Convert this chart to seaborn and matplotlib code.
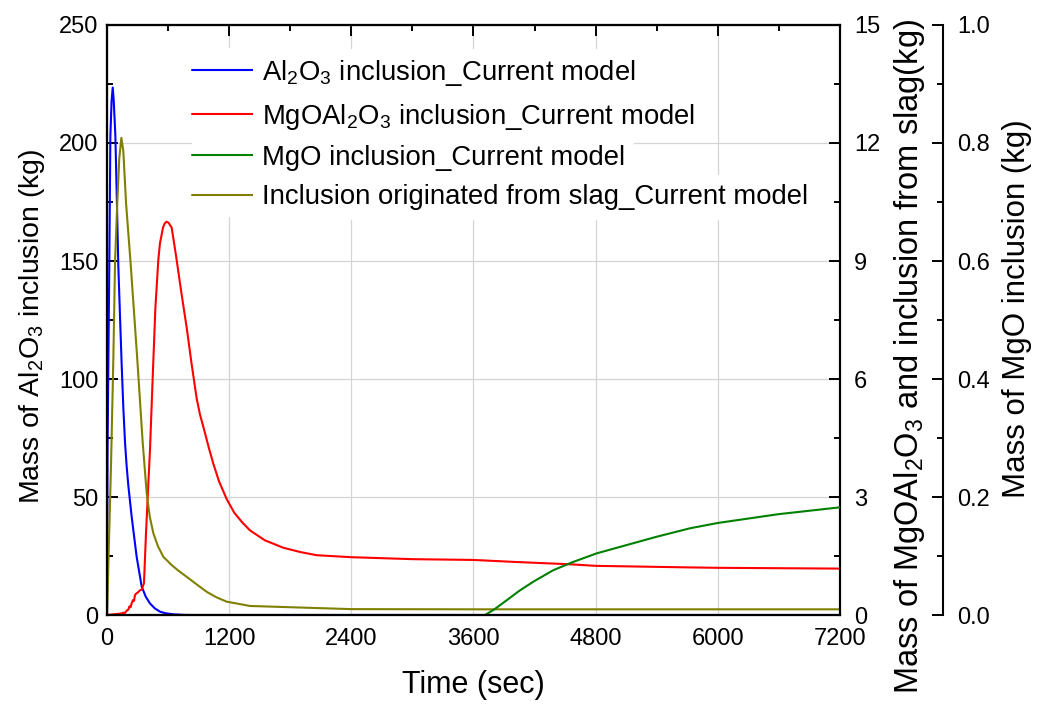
import numpy as np
import pandas as pd
import matplotlib
matplotlib.use("Agg")
import matplotlib.pyplot as plt
import matplotlib.patheffects as pe
from matplotlib.ticker import MultipleLocator, FormatStrFormatter
import seaborn as sns

# ---------------- data ----------------
# Al2O3 inclusion (left axis, kg)
t_al2o3 = [0, 5, 22, 33, 45, 56, 66, 82, 97, 111, 128, 144, 160, 177, 193,
           209, 242, 291, 341, 380, 422, 470, 521, 580, 651, 750, 832, 7200]
m_al2o3 = [0, 70, 146, 203, 218, 223.5, 218, 203, 175, 148, 126, 106, 88,
           73, 63, 55.0, 41.7, 24.7, 12.0, 7.8, 4.9, 2.8, 1.4, 0.7, 0.3,
           0.05, 0, 0]

# MgOAl2O3 inclusion (right axis, kg)
t_spinel = [0, 144, 160, 175, 193, 210, 220, 232, 242, 255, 265, 275, 290,
            305, 320, 341, 363, 383, 406, 422, 449, 475, 504, 520, 550, 565,
            586, 605, 635, 680, 730, 783, 830, 881, 913, 960, 1000, 1044,
            1100, 1175, 1250, 1330, 1405, 1550, 1732, 1900, 2060, 2400, 3000,
            3600, 4000, 4548, 4800, 5727, 6000, 6600, 7200]
m_spinel = [0, 0.04, 0.06, 0.05, 0.11, 0.14, 0.22, 0.20, 0.30, 0.38, 0.36,
            0.51, 0.55, 0.58, 0.62, 0.65, 0.81, 2.08, 3.35, 4.19, 6.06, 7.8,
            9.03, 9.45, 9.85, 9.95, 10.0, 9.97, 9.85, 9.1, 8.2, 7.3, 6.4,
            5.5, 5.1, 4.65, 4.25, 3.85, 3.4, 2.95, 2.6, 2.35, 2.15, 1.9, 1.71,
            1.6, 1.52, 1.47, 1.42, 1.40, 1.35, 1.29, 1.25, 1.21, 1.20, 1.19,
            1.18]

# MgO inclusion (third axis, kg)
t_mgo = [0, 3713, 3800, 3926, 4050, 4188, 4384, 4580, 4810, 5105, 5400,
         5727, 6000, 6600, 7200]
m_mgo = [0, 0, 0.009, 0.025, 0.041, 0.0565, 0.076, 0.090, 0.1045, 0.1186,
         0.1327, 0.147, 0.156, 0.171, 0.1825]

# Inclusion originated from slag (right axis, kg)
t_slag = [0, 40, 62, 79, 101, 120, 141, 160, 187, 233, 300, 350, 390, 420,
          455, 500, 553, 635, 700, 783, 880, 979, 1075, 1175, 1405, 1900,
          2400, 3600, 7200]
m_slag = [0, 3.9, 6.5, 9.0, 10.5, 11.6, 12.13, 11.8, 10.47, 8.9, 6.4, 4.4,
          3.09, 2.5, 2.08, 1.75, 1.48, 1.27, 1.13, 0.97, 0.78, 0.59, 0.45,
          0.34, 0.23, 0.19, 0.15, 0.145, 0.145]

labels = ["Al$_2$O$_3$ inclusion_Current model",
          "MgOAl$_2$O$_3$ inclusion_Current model",
          "MgO inclusion_Current model",
          "Inclusion originated from slag_Current model"]
colors = ["#0000FF", "#FF0000", "#008000", "#808000"]

# ---------------- style ----------------
sns.set_theme(style="white")
plt.rcParams['font.family'] = ['Liberation Sans', 'DejaVu Sans']
plt.rcParams['mathtext.fontset'] = 'custom'
plt.rcParams['mathtext.rm'] = 'Liberation Sans'
plt.rcParams['mathtext.it'] = 'Liberation Sans:italic'
plt.rcParams['mathtext.bf'] = 'Liberation Sans:bold'
plt.rcParams['mathtext.default'] = 'regular'

TICK_FS = 17
LEG_FS = 19.8

fig = plt.figure(figsize=(10.37, 7.04), dpi=100)
ax = fig.add_axes([0.1032, 0.1264, 0.7068, 0.8381])
ax2 = ax.twinx()
ax3 = ax.twinx()
ax3.spines['right'].set_position(('axes', 1.1405))

lw = 1.5
sns.lineplot(x=t_al2o3, y=m_al2o3, ax=ax, color=colors[0], lw=lw,
             estimator=None, legend=False)
l1 = ax.lines[-1]
sns.lineplot(x=t_spinel, y=m_spinel, ax=ax2, color=colors[1], lw=lw,
             estimator=None, legend=False)
l2 = ax2.lines[-1]
sns.lineplot(x=t_slag, y=m_slag, ax=ax2, color=colors[3], lw=lw,
             estimator=None, legend=False)
l4 = ax2.lines[-1]
sns.lineplot(x=t_mgo, y=m_mgo, ax=ax3, color=colors[2], lw=lw,
             estimator=None, legend=False)
l3 = ax3.lines[-1]

# limits
ax.set_xlim(0, 7200)
ax.set_ylim(0, 250)
ax2.set_ylim(0, 15)
ax3.set_ylim(0, 1.0)

# grid
ax.set_axisbelow(True)
ax.grid(True, which='major', color='#d4d4d4', lw=0.9)

# spines
for a in (ax, ax2, ax3):
    for s in a.spines.values():
        s.set_color('black')
        s.set_linewidth(1.5)

# ticks
ax.xaxis.set_major_locator(MultipleLocator(1200))
ax.xaxis.set_minor_locator(MultipleLocator(600))
ax.yaxis.set_major_locator(MultipleLocator(50))
ax.yaxis.set_minor_locator(MultipleLocator(25))
ax.tick_params(axis='both', which='both', direction='in', top=True,
               right=False, color='black', width=1.4, labelsize=TICK_FS,
               labelcolor='black')
ax.tick_params(axis='both', which='major', length=8)
ax.tick_params(axis='both', which='minor', length=4.5)
ax.tick_params(axis='x', which='major', pad=9)
ax.tick_params(axis='y', which='major', pad=6)

ax2.yaxis.set_major_locator(MultipleLocator(3))
ax2.yaxis.set_minor_locator(MultipleLocator(1.5))
ax2.tick_params(axis='y', which='both', direction='in', right=True,
                left=False, color='black', width=1.4, labelsize=TICK_FS,
                labelcolor='black')
ax2.tick_params(axis='y', which='major', length=8, pad=10)
ax2.tick_params(axis='y', which='minor', length=4.5)

ax3.yaxis.set_major_locator(MultipleLocator(0.2))
ax3.yaxis.set_minor_locator(MultipleLocator(0.1))
ax3.yaxis.set_major_formatter(FormatStrFormatter('%.1f'))
ax3.tick_params(axis='y', which='both', direction='in', right=True,
                left=False, color='black', width=1.4, labelsize=TICK_FS,
                labelcolor='black')
ax3.tick_params(axis='y', which='major', length=8, pad=10)
ax3.tick_params(axis='y', which='minor', length=4.5)

# axis labels
ax.set_xlabel("Time (sec)", fontsize=22, color='black')
ax.xaxis.set_label_coords(0.5, -0.093)
ax.set_ylabel("Mass of Al$_2$O$_3$ inclusion (kg)", fontsize=20.5,
              color='black')
ax.yaxis.set_label_coords(-0.0819, 0.49)
ax2.set_ylabel("Mass of MgOAl$_2$O$_3$ and inclusion from slag(kg)",
               fontsize=23.5, color='black')
ax2.yaxis.set_label_coords(1.0709, 0.438)
ax3.set_ylabel("Mass of MgO inclusion (kg)", fontsize=22.5,
               color='black')
ax3.yaxis.set_label_coords(1.2210, 0.52)

# legend (per-row opaque background like the original)
leg = ax3.legend([l1, l2, l3, l4], labels, loc='upper left',
                 bbox_to_anchor=(0.116, 0.944), frameon=False,
                 fontsize=LEG_FS, handlelength=2.3, handletextpad=0.25,
                 labelspacing=0.49, borderpad=0, borderaxespad=0)
for txt in leg.get_texts():
    txt.set_color('black')
    txt.set_bbox(dict(boxstyle='square,pad=0.33', facecolor='white',
                      edgecolor='none'))
for hl in leg.get_lines():
    hl.set_linewidth(1.5)
    hl.set_path_effects([pe.Stroke(linewidth=32, foreground='white',
                                   capstyle='butt'), pe.Normal()])

fig.savefig("out.png", dpi=100)
